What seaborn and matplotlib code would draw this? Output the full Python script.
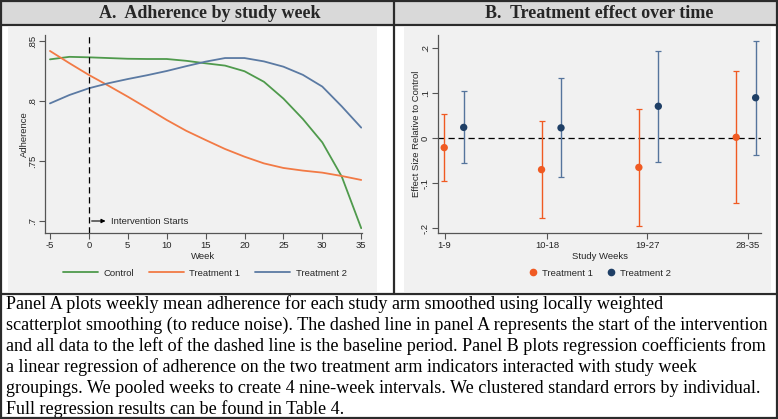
import numpy as np
import pandas as pd
import matplotlib
matplotlib.use("Agg")
import matplotlib.pyplot as plt
from matplotlib.patches import Rectangle
from matplotlib.lines import Line2D
import seaborn as sns

# ================= DATA =================
weeks = [-5, -2.5, 0, 2.5, 5, 7.5, 10, 12.5, 15, 17.5, 20, 22.5, 25, 27.5, 30, 32.5, 35]
control = [.8347, .8368, .8364, .8358, .8352, .8350, .8350, .8335, .8314, .8295, .8248,
           .8160, .8020, .7850, .7655, .7370, .6940]
treat1 = [.8417, .8315, .8217, .8128, .8036, .7940, .7842, .7752, .7675, .7600, .7536,
          .7480, .7442, .7420, .7403, .7375, .7342]
treat2 = [.7980, .8050, .8106, .8148, .8183, .8215, .8250, .8290, .8328, .8358, .8358,
          .8330, .8286, .8218, .8120, .7955, .7778]

groups = ["1-9", "10-18", "19-27", "28-35"]
t1_coef = [-0.021, -0.070, -0.065, 0.002]
t1_lo = [-0.096, -0.178, -0.196, -0.144]
t1_hi = [0.054, 0.038, 0.065, 0.150]
t2_coef = [0.024, 0.023, 0.071, 0.090]
t2_lo = [-0.056, -0.087, -0.052, -0.037]
t2_hi = [0.105, 0.133, 0.193, 0.216]

caption_lines = [
    "Panel A plots weekly mean adherence for each study arm smoothed using locally weighted",
    "scatterplot smoothing (to reduce noise). The dashed line in panel A represents the start of the intervention",
    "and all data to the left of the dashed line is the baseline period. Panel B plots regression coefficients from",
    "a linear regression of adherence on the two treatment arm indicators interacted with study week",
    "groupings. We pooled weeks to create 4 nine-week intervals. We clustered standard errors by individual.",
    "Full regression results can be found in Table 4.",
]

# ================= STYLE =================
W, H = 778, 419
GREEN = "#4f9a4c"
ORANGE_A = "#f27a45"
BLUE_A = "#5b7aa3"
ORANGE_B = "#f05a22"
BLUE_B = "#1f3f66"
BLUE_B_LINE = "#55749c"
PANEL_BG = "#f1f1f1"
AXIS_C = "#555555"
FS = 6.8

sns.set_theme(style="white")
plt.rcParams["font.family"] = ["Liberation Sans", "DejaVu Sans"]
plt.rcParams["axes.unicode_minus"] = False


def px_rect(x0, y0, x1, y1):
    """pixel box (top-left origin) -> figure fraction [l, b, w, h]"""
    return [x0 / W, 1 - y1 / H, (x1 - x0) / W, (y1 - y0) / H]


fig = plt.figure(figsize=(W / 100, H / 100), dpi=100)
fig.patch.set_facecolor("white")

# header bar and panel backgrounds
for x0, y0, x1, y1, c in [(0, 0, W, 25, "#d9d9d9"),
                          (8, 27, 377, 292, PANEL_BG),
                          (404, 27, 771, 292, PANEL_BG)]:
    l, b, w, h = px_rect(x0, y0, x1, y1)
    fig.patches.append(Rectangle((l, b), w, h, transform=fig.transFigure,
                                 facecolor=c, edgecolor="none", zorder=-5))

# frame lines
frame = [((1, 1), (0, H)), ((W - 1, W - 1), (0, H)), ((0, W), (1, 1)), ((0, W), (H - 1, H - 1)),
         ((0, W), (25, 25)), ((0, W), (294, 294)), ((394, 394), (0, 294))]
for xs, ys in frame:
    fig.add_artist(Line2D([x / W for x in xs], [1 - y / H for y in ys], transform=fig.transFigure,
                          color="#2b2b2b", lw=1.6, zorder=5))

fig.text(210 / W, 1 - 13 / H, "A.  Adherence by study week", ha="center", va="center",
         fontsize=13, fontweight="bold", family="Liberation Serif")
fig.text(599 / W, 1 - 13 / H, "B.  Treatment effect over time", ha="center", va="center",
         fontsize=13, fontweight="bold", family="Liberation Serif")

for i, line in enumerate(caption_lines):
    fig.text(6 / W, 1 - (304 + i * 21) / H, line, ha="left", va="center",
             fontsize=13.1, family="Liberation Serif", color="black")


def style_axes(ax):
    ax.set_facecolor("none")
    for s in ["top", "right"]:
        ax.spines[s].set_visible(False)
    for s in ["left", "bottom"]:
        ax.spines[s].set_color(AXIS_C)
        ax.spines[s].set_linewidth(0.9)
    ax.tick_params(axis="both", which="both", direction="out", length=4, width=0.8,
                   color=AXIS_C, labelsize=FS, pad=2, bottom=True, left=True)
    for t in ax.get_yticklabels():
        t.set_rotation(90)
        t.set_va("center")


# ================= PANEL A =================
axA = fig.add_axes(px_rect(45, 35, 362, 233))
dfA = pd.DataFrame({
    "Week": weeks * 3,
    "Adherence": control + treat1 + treat2,
    "Arm": ["Control"] * len(weeks) + ["Treatment 1"] * len(weeks) + ["Treatment 2"] * len(weeks),
})
sns.lineplot(data=dfA, x="Week", y="Adherence", hue="Arm", ax=axA,
             palette={"Control": GREEN, "Treatment 1": ORANGE_A, "Treatment 2": BLUE_A},
             linewidth=1.3, legend=False)
axA.axvline(0, color="black", lw=0.9, ls=(0, (5, 3)))
axA.annotate("", xy=(2.5, 0.7), xytext=(0, 0.7),
             arrowprops=dict(arrowstyle="-|>", color="black", lw=0.8, mutation_scale=6))
axA.text(2.8, 0.7, "Intervention Starts", fontsize=FS, va="center", ha="left")
axA.set_xlim(-5.64, 35.1)
axA.set_ylim(0.69, 0.855)
axA.set_xticks([-5, 0, 5, 10, 15, 20, 25, 30, 35])
axA.set_yticks([0.7, 0.75, 0.8, 0.85])
axA.set_yticklabels([".7", ".75", ".8", ".85"])
axA.set_xlabel("Week", fontsize=FS, labelpad=1)
axA.set_ylabel("Adherence", fontsize=FS, labelpad=-1)
style_axes(axA)

handlesA = [Line2D([], [], color=c, lw=1.3) for c in (GREEN, ORANGE_A, BLUE_A)]
fig.legend(handlesA, ["Control", "Treatment 1", "Treatment 2"], loc="center",
           bbox_to_anchor=(205 / W, 1 - 273 / H), ncol=3, frameon=False, fontsize=FS,
           handlelength=3.7, columnspacing=1.6, handletextpad=0.55)

# ================= PANEL B =================
axB = fig.add_axes(px_rect(438, 35, 761, 233))
pos = np.arange(len(groups))
dfB = pd.DataFrame({
    "x": np.concatenate([pos - 0.1, pos + 0.1]),
    "coef": t1_coef + t2_coef,
    "lo": t1_lo + t2_lo,
    "hi": t1_hi + t2_hi,
    "Arm": ["Treatment 1"] * len(groups) + ["Treatment 2"] * len(groups),
})
axB.axhline(0, color="black", lw=0.9, ls=(0, (5, 3)), zorder=1)
for arm, lc in [("Treatment 1", ORANGE_B), ("Treatment 2", BLUE_B_LINE)]:
    d = dfB[dfB["Arm"] == arm]
    axB.errorbar(d["x"], d["coef"], yerr=[d["coef"] - d["lo"], d["hi"] - d["coef"]],
                 fmt="none", ecolor=lc, elinewidth=1.0, capsize=2.5, capthick=0.9, zorder=2)
sns.scatterplot(data=dfB, x="x", y="coef", hue="Arm", ax=axB,
                palette={"Treatment 1": ORANGE_B, "Treatment 2": BLUE_B},
                s=28, edgecolor="none", legend=False, zorder=3)
axB.set_xlim(-0.164, 3.155)
axB.set_ylim(-0.211, 0.2296)
axB.set_xticks([-0.096, 0.959, 1.986, 3.02])
axB.set_xticklabels(groups)
axB.set_yticks([-0.2, -0.1, 0, 0.1, 0.2])
axB.set_yticklabels(["-.2", "-.1", "0", ".1", ".2"])
axB.set_xlabel("Study Weeks", fontsize=FS, labelpad=1)
axB.set_ylabel("Effect Size Relative to Control", fontsize=FS, labelpad=0)
style_axes(axB)

handlesB = [Line2D([], [], color=c, marker="o", ls="none", markersize=4.5) for c in (ORANGE_B, BLUE_B)]
fig.legend(handlesB, ["Treatment 1", "Treatment 2"], loc="center",
           bbox_to_anchor=(600 / W, 1 - 273 / H), ncol=2, frameon=False, fontsize=FS,
           handlelength=0.8, columnspacing=1.6, handletextpad=0.5)

fig.savefig("out.png", dpi=100)
